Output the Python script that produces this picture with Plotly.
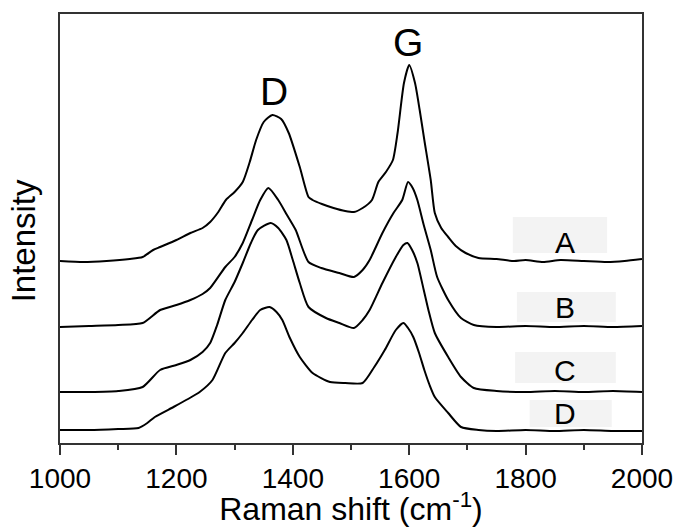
import plotly.graph_objects as go

# Raman shift (cm^-1) and intensities (a.u., vertically offset as displayed)
x_A = [1000, 1040, 1080, 1120, 1142, 1160, 1172, 1200, 1224, 1245, 1258, 1272, 1285, 1300, 1314, 1326, 1337, 1350, 1365, 1380, 1393, 1412, 1427, 1434, 1450, 1470, 1490, 1505, 1520, 1536, 1547, 1560, 1572, 1580, 1591, 1600, 1610, 1618, 1626, 1637, 1644, 1655, 1667, 1680, 1697, 1719, 1750, 1780, 1800, 1830, 1860, 1900, 1940, 1970, 2000]
y_A = [182, 181, 182, 184, 186, 193, 196, 203, 210, 215, 221, 231, 243, 251, 261, 281, 303, 321, 328, 324, 310, 276, 246, 243, 239, 235, 232, 231, 235, 243, 261, 271, 283, 310, 360, 378, 360, 333, 303, 263, 230, 215, 206, 197, 190, 185, 184, 182, 183, 181, 183, 182, 181, 182, 184]

x_B = [1000, 1050, 1100, 1142, 1172, 1200, 1224, 1245, 1258, 1284, 1300, 1314, 1330, 1344, 1358, 1375, 1390, 1405, 1427, 1449, 1480, 1505, 1520, 1532, 1554, 1573, 1588, 1598, 1606, 1614, 1625, 1637, 1648, 1667, 1689, 1711, 1750, 1800, 1850, 1900, 1950, 2000]
y_B = [116, 117, 118, 120, 133, 138, 143, 149, 155, 176, 186, 200, 223, 243, 255, 243, 228, 213, 181, 175, 170, 166, 173, 183, 210, 230, 243, 261, 255, 243, 218, 193, 166, 143, 125, 118, 116, 117, 116, 117, 116, 117]

x_C = [1000, 1050, 1100, 1142, 1172, 1200, 1224, 1245, 1258, 1270, 1284, 1300, 1314, 1328, 1340, 1362, 1375, 1389, 1400, 1412, 1427, 1457, 1480, 1505, 1520, 1532, 1554, 1577, 1590, 1597, 1605, 1614, 1625, 1633, 1644, 1667, 1689, 1711, 1750, 1800, 1850, 1900, 1950, 2000]
y_C = [51, 51, 52, 56, 73, 78, 83, 91, 100, 118, 143, 161, 180, 200, 213, 220, 215, 203, 183, 160, 136, 125, 120, 115, 123, 133, 160, 186, 198, 200, 193, 180, 153, 133, 110, 86, 66, 55, 52, 51, 52, 51, 52, 51]

x_D = [1000, 1050, 1100, 1135, 1150, 1163, 1195, 1220, 1240, 1262, 1284, 1300, 1314, 1330, 1344, 1360, 1372, 1382, 1395, 1412, 1434, 1464, 1490, 1520, 1540, 1558, 1577, 1590, 1598, 1607, 1617, 1626, 1635, 1644, 1667, 1689, 1719, 1750, 1800, 1850, 1900, 1950, 2000]
y_D = [13, 13, 14, 15, 20, 26, 36, 44, 51, 63, 90, 100, 110, 123, 133, 136, 131, 123, 105, 86, 70, 61, 60, 60, 76, 93, 113, 120, 115, 106, 90, 73, 58, 46, 30, 16, 13, 12, 13, 12, 13, 12, 12]

series_names = ["A", "B", "C", "D"]
series_x = [x_A, x_B, x_C, x_D]
series_y = [y_A, y_B, y_C, y_D]

x_ticks = [1000, 1200, 1400, 1600, 1800, 2000]

# label placement (data coordinates)
label_x = 1868
label_y = [201, 136, 73, 30]
box_x0 = [1778, 1785, 1782, 1807]
box_x1 = [1940, 1955, 1955, 1948]
box_y0 = [190, 121, 60, 16]
box_y1 = [226, 151, 91, 43]

FONT = "Liberation Sans, Arial, Helvetica, sans-serif"

fig = go.Figure()
for name, xs, ys in zip(series_names, series_x, series_y):
    fig.add_trace(go.Scatter(
        x=xs, y=ys, mode="lines", name=name,
        line=dict(color="black", width=2, shape="spline", smoothing=0.6),
        showlegend=False, hoverinfo="skip",
    ))

for i, name in enumerate(series_names):
    fig.add_shape(type="rect", x0=box_x0[i], x1=box_x1[i], y0=box_y0[i], y1=box_y1[i],
                  xref="x", yref="y", fillcolor="#f3f3f3", line=dict(width=0), layer="below")
    fig.add_annotation(x=label_x, y=label_y[i], text=name, showarrow=False,
                       font=dict(family=FONT, size=30, color="black"))

fig.add_annotation(x=1368, y=352, text="D", showarrow=False,
                   font=dict(family=FONT, size=39, color="black"))
fig.add_annotation(x=1598, y=401, text="G", showarrow=False,
                   font=dict(family=FONT, size=39, color="black"))

fig.add_annotation(xref="paper", yref="paper", x=0, y=0.47, xshift=-37,
                   xanchor="center", yanchor="middle",
                   text="Intensity", textangle=-90, showarrow=False,
                   font=dict(family=FONT, size=33, color="black"))

fig.update_layout(
    width=681, height=527,
    margin=dict(l=60, r=39, t=14, b=84, autoexpand=False),
    paper_bgcolor="white", plot_bgcolor="white",
    font=dict(family=FONT, color="black"),
)
fig.update_xaxes(
    range=[1000, 2000], tickvals=x_ticks, ticktext=[str(t) for t in x_ticks],
    ticks="outside", ticklen=10, tickwidth=1.5, tickcolor="#333",
    minor=dict(ticks="outside", ticklen=5, tickwidth=1.5, tickcolor="#333", dtick=100, tick0=1000, showgrid=False),
    showline=True, linecolor="#333", linewidth=1.5, mirror=True,
    showgrid=False, zeroline=False, automargin=False,
    tickfont=dict(size=28, family=FONT),
    title=dict(text="Raman shift (cm<sup>-1</sup>)", font=dict(size=32, family=FONT), standoff=2),
)
fig.update_yaxes(
    range=[0, 429], showticklabels=False, ticks="", automargin=False,
    showline=True, linecolor="#333", linewidth=1.5, mirror=True,
    showgrid=False, zeroline=False,
)

fig.write_html(
    "out.html",
    config={"displayModeBar": False},
    post_script="document.body.style.margin='0px';document.body.style.overflow='hidden';",
)
